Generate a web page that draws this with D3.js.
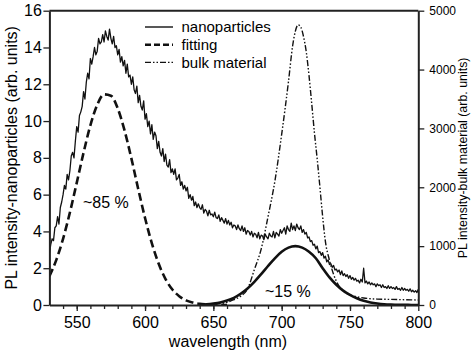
<!DOCTYPE html>
<html>
<head>
    <title>PL spectra</title>
    <style type="text/css">
        body { margin: 0; background: #fff; }
        svg text { font-family: Arial, "Liberation Sans", sans-serif; fill: #000; }
        .axis path, .axis line { stroke: #222; }
    </style>
</head>
<body>
    <script src="https://d3js.org/d3.v7.min.js" type="text/javascript"></script>
    <script type="text/javascript">

        // nanoparticles spectrum, 530..800 nm every 1 nm
        var nanoWl = d3.range(530, 801, 1);
        var nanoVal = [
            2.8, 3.3, 3.6, 3.5, 4.2, 4.3, 4.8, 4.4, 5.3, 5.6,
            6.0, 6.5, 6.3, 7.1, 6.8, 7.3, 8.1, 8.3, 8.0, 8.9,
            9.7, 9.4, 10.3, 10.5, 10.8, 11.6, 11.2, 12.1, 12.6, 12.3,
            13.4, 13.1, 13.5, 14.0, 13.6, 13.8, 14.5, 14.2, 14.3, 14.7,
            14.3, 14.9, 14.6, 14.4, 15.0, 14.5, 14.2, 14.6, 14.0, 14.1,
            13.6, 13.9, 13.2, 13.5, 13.0, 13.3, 12.6, 13.1, 12.4, 12.5,
            12.0, 12.4, 11.7, 11.5, 11.9, 11.0, 11.4, 10.8, 10.6, 11.1,
            10.1, 10.4, 9.7, 10.0, 9.3, 9.8, 9.0, 9.4, 9.2, 8.5,
            8.9, 8.3, 8.1, 8.5, 7.8, 8.2, 7.6, 7.5, 7.9, 7.2,
            7.4, 7.1, 7.4, 6.8, 6.9, 7.1, 6.5, 6.7, 6.3, 6.5,
            6.2, 6.4, 5.8, 6.0, 5.7, 5.9, 5.4, 5.6, 5.3, 5.5,
            5.3, 5.2, 5.45, 5.0, 5.2, 5.1, 4.85, 5.15, 4.9, 4.95,
            4.8, 5.05, 4.75, 4.7, 4.9, 4.55, 4.75, 4.6, 4.45, 4.7,
            4.4, 4.6, 4.35, 4.5, 4.2, 4.35, 4.3, 4.1, 4.35, 4.15,
            4.05, 4.3, 4.0, 4.2, 3.85, 4.05, 4.0, 3.8, 4.0, 3.7,
            3.9, 3.85, 3.65, 3.95, 3.6, 3.8, 3.75, 3.55, 3.85, 3.7,
            3.6, 3.9, 3.75, 3.7, 4.0, 3.65, 3.95, 3.85, 3.75, 4.1,
            3.9, 4.05, 4.2, 3.85, 4.3, 4.1, 4.0, 4.45, 4.1, 4.3,
            4.05, 4.4, 4.2, 4.1, 4.3, 3.95, 4.1, 3.85, 3.95, 3.65,
            3.7, 3.45, 3.5, 3.25, 3.3, 3.05, 3.2, 2.85, 2.9, 2.7,
            2.85, 2.55, 2.65, 2.35, 2.45, 2.2, 2.25, 2.05, 2.15, 1.9,
            1.95, 1.8, 1.9, 1.65, 1.85, 1.6, 1.7, 1.55, 1.65, 1.45,
            1.6, 1.4, 1.5, 1.35, 1.45, 1.3, 1.35, 1.2, 1.4, 1.25,
            2.0, 1.2, 1.3, 1.15, 1.25, 1.1, 1.2, 1.1, 1.15, 1.0,
            1.15, 1.05, 1.1, 0.95, 1.1, 0.95, 1.0, 0.9, 1.05, 0.9,
            1.0, 0.9, 0.95, 0.85, 1.0, 0.85, 0.9, 0.8, 0.95, 0.8,
            0.9, 0.8, 0.85, 0.75, 0.88, 0.72, 0.8, 0.7, 0.78, 0.68,
            0.85
        ];

        // first gaussian fit (dashed)
        var fit1Wl = d3.range(530, 661, 5);
        var fit1Val = [1.56, 2.44, 3.60, 5.03, 6.64, 8.28, 9.77, 10.88, 11.45, 11.38,
            10.69, 9.49, 7.97, 6.31, 4.73, 3.35, 2.24, 1.41, 0.84, 0.48,
            0.25, 0.13, 0.06, 0.03, 0.01, 0, 0];

        // second gaussian fit (solid, thick)
        var fit2Wl = d3.range(640, 801, 5);
        var fit2Val = [0.02, 0.04, 0.08, 0.14, 0.24, 0.39, 0.61, 0.90, 1.26, 1.68,
            2.12, 2.54, 2.89, 3.12, 3.2, 3.12, 2.89, 2.54, 2.0, 1.5,
            1.1, 0.78, 0.55, 0.37, 0.23, 0.14, 0.08, 0.04, 0.02, 0.01,
            0.01, 0, 0];

        // bulk material (right axis)
        var bulkWl = [640, 650, 655, 660, 665, 670, 675, 680, 685, 690,
            695, 700, 705, 708, 710, 712, 714, 716, 718, 720,
            722, 724, 726, 728, 730, 732, 735, 738, 741, 745,
            750, 755, 760, 770, 780, 790, 800];
        var bulkVal = [0, 10, 25, 45, 90, 150, 270, 600, 950, 1500,
            2100, 2900, 3800, 4400, 4650, 4760, 4720, 4560, 4300, 3900,
            3420, 2920, 2480, 2000, 1500, 1080, 760, 520, 360, 240,
            170, 140, 120, 100, 95, 90, 85];

        var xTicks = [550, 600, 650, 700, 750, 800];
        var yLeftTicks = [0, 2, 4, 6, 8, 10, 12, 14, 16];
        var yRightTicks = [0, 1000, 2000, 3000, 4000, 5000];
        var legendNames = ['nanoparticles', 'fitting', 'bulk material'];

        var W = 474, H = 354;
        var L = 49.4, R = 418.3, T = 10.7, B = 305;

        var svg = d3.select('body').append('svg')
            .attr('width', W)
            .attr('height', H);

        var x = d3.scaleLinear().domain([530, 800]).range([L, R]);
        var yL = d3.scaleLinear().domain([0, 16]).range([B, T]);
        var yR = d3.scaleLinear().domain([0, 5000]).range([B, T]);

        svg.append('clipPath').attr('id', 'plot')
            .append('rect')
            .attr('x', L).attr('y', T)
            .attr('width', R - L).attr('height', B - T);

        var g = svg.append('g').attr('clip-path', 'url(#plot)');

        var zip = function (a, b) { return a.map(function (d, i) { return [d, b[i]]; }); };

        var lineL = d3.line()
            .x(function (d) { return x(d[0]); })
            .y(function (d) { return yL(d[1]); });
        var smoothL = d3.line().curve(d3.curveMonotoneX)
            .x(function (d) { return x(d[0]); })
            .y(function (d) { return yL(d[1]); });
        var smoothR = d3.line().curve(d3.curveMonotoneX)
            .x(function (d) { return x(d[0]); })
            .y(function (d) { return yR(d[1]); });

        var bulkDash = '6,2,1.5,2,1.5,2';

        g.append('path')
            .attr('d', smoothR(zip(bulkWl, bulkVal)))
            .attr('fill', 'none').attr('stroke', '#111')
            .attr('stroke-width', 1.4)
            .attr('stroke-dasharray', bulkDash);

        g.append('path')
            .attr('d', smoothL(zip(fit2Wl, fit2Val)))
            .attr('fill', 'none').attr('stroke', '#111')
            .attr('stroke-width', 2.6);

        g.append('path')
            .attr('d', smoothL(zip(fit1Wl, fit1Val)))
            .attr('fill', 'none').attr('stroke', '#111')
            .attr('stroke-width', 2.6)
            .attr('stroke-dasharray', '8,4');

        g.append('path')
            .attr('d', lineL(zip(nanoWl, nanoVal)))
            .attr('fill', 'none').attr('stroke', '#111')
            .attr('stroke-width', 1.3)
            .attr('stroke-linejoin', 'round');

        // axes
        var minor = svg.append('g').attr('class', 'axis')
            .attr('transform', 'translate(0,' + B + ')')
            .call(d3.axisBottom(x).tickValues(d3.range(540, 800, 10)).tickSize(4).tickSizeOuter(0).tickFormat(''));
        minor.select('.domain').remove();

        var xAxis = svg.append('g').attr('class', 'axis')
            .attr('transform', 'translate(0,' + B + ')')
            .call(d3.axisBottom(x).tickValues(xTicks).tickSize(6).tickSizeOuter(0).tickPadding(5.5));
        xAxis.selectAll('text').style('font-size', '16px');

        var yAxis = svg.append('g').attr('class', 'axis')
            .attr('transform', 'translate(' + L + ',0)')
            .call(d3.axisLeft(yL).tickValues(yLeftTicks).tickSize(6).tickSizeOuter(0).tickPadding(1.5));
        yAxis.selectAll('text').style('font-size', '16px');

        var yAxisR = svg.append('g').attr('class', 'axis')
            .attr('transform', 'translate(' + R + ',0)')
            .call(d3.axisRight(yR).tickValues(yRightTicks).tickFormat(d3.format('d'))
                .tickSize(6).tickSizeOuter(0).tickPadding(5));
        yAxisR.selectAll('text').style('font-size', '12px');

        svg.selectAll('.axis .domain').attr('stroke-width', 2);
        svg.selectAll('.axis line').attr('stroke-width', 1.3);

        svg.append('line')
            .attr('x1', L).attr('x2', R)
            .attr('y1', T).attr('y2', T)
            .attr('stroke', '#222').attr('stroke-width', 2);

        // axis titles
        svg.append('text')
            .attr('transform', 'translate(17,' + ((T + B) / 2) + ') rotate(-90)')
            .attr('text-anchor', 'middle')
            .style('font-size', '16px')
            .text('PL intensity-nanoparticles (arb. units)');

        svg.append('text')
            .attr('transform', 'translate(467,' + ((T + B) / 2) + ') rotate(-90)')
            .attr('text-anchor', 'middle')
            .style('font-size', '12.4px')
            .text('PL intensity-bulk material (arb. units)');

        svg.append('text')
            .attr('x', 228).attr('y', 347)
            .attr('text-anchor', 'middle')
            .style('font-size', '16px')
            .text('wavelength (nm)');

        // share annotations
        svg.append('text').attr('x', 83).attr('y', 208)
            .style('font-size', '16px').text('~85 %');
        svg.append('text').attr('x', 265).attr('y', 297)
            .style('font-size', '16px').text('~15 %');

        // legend
        var legendDash = [null, '6,3', bulkDash];
        var legendWidth = [1.4, 2.4, 1.4];
        var leg = svg.append('g').selectAll('g')
            .data(legendNames)
            .enter().append('g')
            .attr('transform', function (d, i) { return 'translate(145,' + (27 + 17.7 * i) + ')'; });
        leg.append('line')
            .attr('x1', 0).attr('x2', 28)
            .attr('stroke', '#111')
            .attr('stroke-width', function (d, i) { return legendWidth[i]; })
            .attr('stroke-dasharray', function (d, i) { return legendDash[i]; });
        leg.append('text')
            .attr('x', 36.5).attr('y', 5.3)
            .style('font-size', '15px')
            .text(function (d) { return d; });
    </script>
</body>
</html>
